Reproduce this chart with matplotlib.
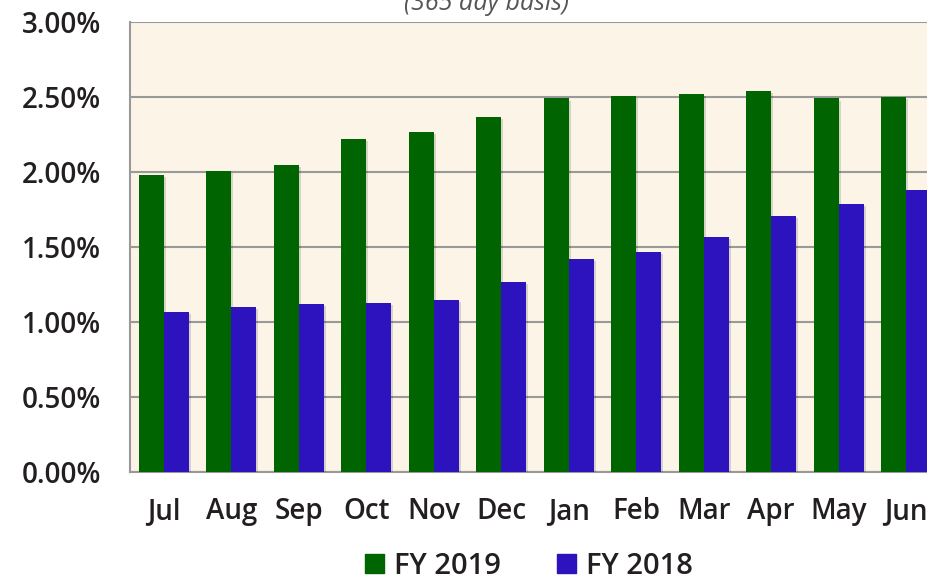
import matplotlib
matplotlib.use('Agg')
import matplotlib.pyplot as plt
import matplotlib.patheffects as pe
from matplotlib.patches import Patch
from matplotlib.ticker import FuncFormatter
import numpy as np

plt.rcParams['font.family'] = ['Open Sans', 'DejaVu Sans']

months = ['Jul', 'Aug', 'Sep', 'Oct', 'Nov', 'Dec', 'Jan', 'Feb', 'Mar', 'Apr', 'May', 'Jun']
fy2019 = [1.98, 2.01, 2.05, 2.22, 2.27, 2.37, 2.49, 2.51, 2.52, 2.54, 2.49, 2.50]
fy2018 = [1.07, 1.10, 1.12, 1.13, 1.15, 1.27, 1.42, 1.47, 1.57, 1.71, 1.79, 1.88]

green = '#006400'
blue = '#2C13BE'

fig = plt.figure(figsize=(9.28, 5.82), dpi=100)
# axes run past the right edge, like the cropped original
ax = fig.add_axes([130/928, 110/582, 810/928, 450/582])
ax.set_facecolor('#FCF4E6')

x = np.arange(len(months))
w = 0.37
shadow = [pe.SimplePatchShadow(offset=(1.5, -1.5), alpha=0.15), pe.Normal()]
b1 = ax.bar(x - w/2, fy2019, w, color=green, zorder=3)
b2 = ax.bar(x + w/2, fy2018, w, color=blue, zorder=3)
for r in list(b1) + list(b2):
    r.set_path_effects(shadow)

ax.set_xlim(-0.5, len(months) - 0.5)
ax.set_ylim(0, 3.0)
ax.set_yticks(np.arange(0, 3.01, 0.5))
ax.yaxis.set_major_formatter(FuncFormatter(lambda v, p: f'{v:.2f}%'))
ax.grid(axis='y', color='#999999', linewidth=1.5, zorder=1)
ax.set_axisbelow(True)
ax.set_xticks(x)
ax.set_xticklabels(months)

for s in ['top', 'right']:
    ax.spines[s].set_visible(False)
for s in ['left', 'bottom']:
    ax.spines[s].set_color('#999999')
    ax.spines[s].set_linewidth(1.5)

ax.tick_params(axis='y', length=0, pad=21, labelsize=20, labelcolor='#231F20')
ax.tick_params(axis='x', length=0, pad=18, labelsize=20, labelcolor='#231F20')
for lab in ax.get_xticklabels() + ax.get_yticklabels():
    lab.set_fontweight('semibold')

fig.text(487/928, 1 - 10/582, '(365 day basis)', ha='center', va='baseline',
         fontsize=18, style='italic', color='#555555')

handles = [Patch(color=green, label='FY 2019'), Patch(color=blue, label='FY 2018')]
leg = fig.legend(handles=handles, loc='lower center', bbox_to_anchor=(529/928, -0.043),
                 ncol=2, frameon=False, handlelength=0.65, handleheight=0.65,
                 handletextpad=0.35, columnspacing=1.9,
                 prop={'size': 21, 'weight': 'semibold'})
for t in leg.get_texts():
    t.set_color('#231F20')

fig.savefig('out.png', dpi=100)
